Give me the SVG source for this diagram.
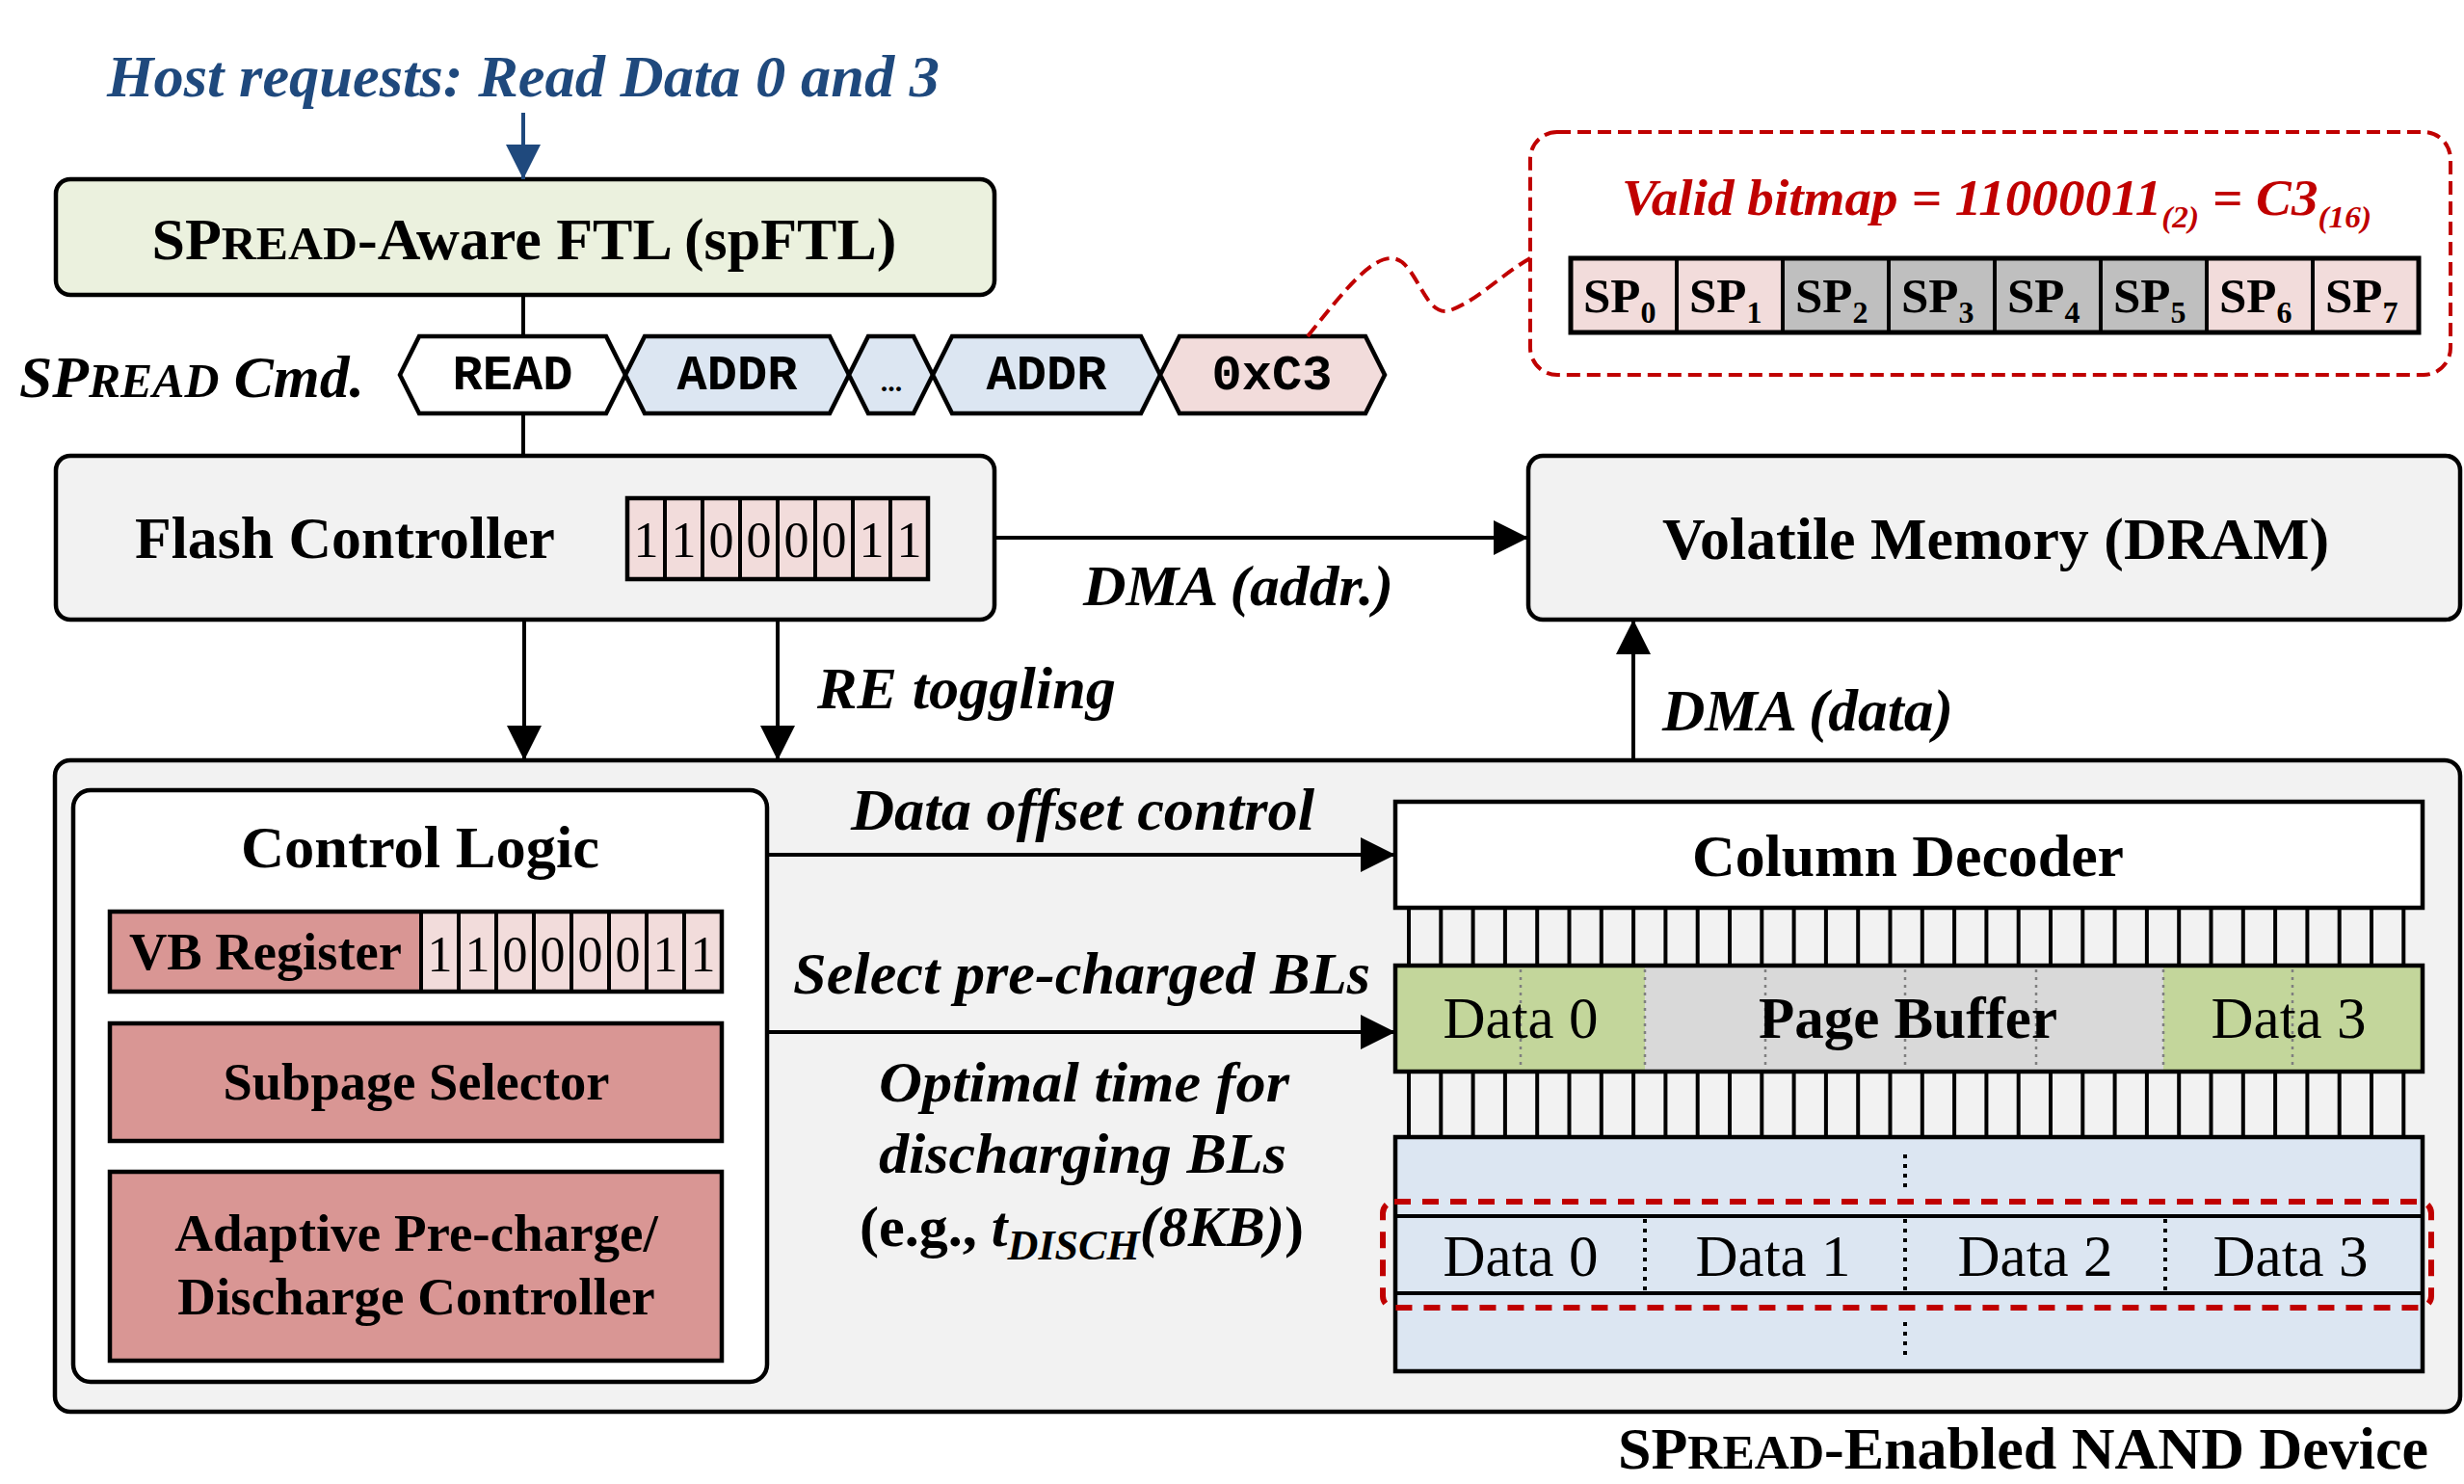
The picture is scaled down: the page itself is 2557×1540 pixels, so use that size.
<svg xmlns="http://www.w3.org/2000/svg" width="2557" height="1540" viewBox="0 0 2557 1540">
<defs>
<style>
text{font-family:"Liberation Serif","Times New Roman",serif;fill:#000}
.b{font-weight:bold}
.bi{font-weight:bold;font-style:italic}
.r{font-weight:normal}
.mono{font-family:"Liberation Mono","Courier New",monospace;font-weight:bold}
.box{stroke:#000;stroke-width:4.5}
.ln{stroke:#000;stroke-width:4;fill:none}
.mid{text-anchor:middle}
.dotg{stroke:#7f7f7f;stroke-width:2.5;stroke-dasharray:3 5;fill:none}
.dotk{stroke:#000;stroke-width:4;stroke-dasharray:4 6;fill:none}
</style>
<marker id="ah" markerUnits="userSpaceOnUse" markerWidth="36" markerHeight="36" viewBox="0 0 36 36" refX="36" refY="18" orient="auto"><path d="M0,0 L36,18 L0,36 z" fill="#000"/></marker>
<marker id="ahb" markerUnits="userSpaceOnUse" markerWidth="36" markerHeight="36" viewBox="0 0 36 36" refX="36" refY="18" orient="auto"><path d="M0,0 L36,18 L0,36 z" fill="#1f497d"/></marker>
</defs>
<rect width="2557" height="1540" fill="#fff"/>

<g id="host-label">
<text class="bi" x="111" y="100" font-size="62" style="fill:#1f497d" textLength="864" lengthAdjust="spacingAndGlyphs">Host requests: Read Data 0 and 3</text>
</g>

<g id="nand-device">
<rect class="box" x="57" y="789" width="2496" height="676" rx="16" fill="#f2f2f2"/>
<text class="b" x="1679" y="1524" font-size="62" textLength="841" lengthAdjust="spacingAndGlyphs">SP<tspan font-size="50">READ</tspan>-Enabled NAND Device</text>
</g>

<g id="ftl">
<rect class="box" x="58" y="186" width="974" height="120" rx="15" fill="#ebf1de"/>
<text class="b mid" x="544" y="269" font-size="61" textLength="773" lengthAdjust="spacingAndGlyphs">SP<tspan font-size="49">READ</tspan>-Aware FTL (spFTL)</text>
</g>

<g id="spread-cmd">
<text class="bi" x="20" y="412" font-size="62" textLength="358" lengthAdjust="spacingAndGlyphs">SP<tspan font-size="50">READ</tspan> Cmd.</text>
<polygon class="box" fill="#ffffff" points="415,389 435,349 629,349 649,389 629,429 435,429"/>
<polygon class="box" fill="#dce6f2" points="649,389 669,349 861,349 881,389 861,429 669,429"/>
<polygon class="box" fill="#dce6f2" points="881,389 901,349 948,349 968,389 948,429 901,429"/>
<polygon class="box" fill="#dce6f2" points="968,389 988,349 1184,349 1204,389 1184,429 988,429"/>
<polygon class="box" fill="#f2dcdb" points="1204,389 1224,349 1417,349 1437,389 1417,429 1224,429"/>
<text class="mono mid" x="532" y="404" font-size="52">READ</text>
<text class="mono mid" x="765" y="404" font-size="52">ADDR</text>
<text class="b mid" x="925" y="406" font-size="30">...</text>
<text class="mono mid" x="1086" y="404" font-size="52">ADDR</text>
<text class="mono mid" x="1320" y="404" font-size="52">0xC3</text>
</g>

<g id="flash-controller">
<rect class="box" x="58" y="473" width="974" height="170" rx="15" fill="#f2f2f2"/>
<text class="b" x="140" y="579" font-size="61" textLength="436" lengthAdjust="spacingAndGlyphs">Flash Controller</text>
<rect x="651" y="517" width="312" height="84" fill="#f2dcdb" stroke="#000" stroke-width="4.5"/>
<path class="ln" stroke-width="3" d="M690 517V601M729 517V601M768 517V601M807 517V601M846 517V601M885 517V601M924 517V601"/>
<g class="r" font-size="52" text-anchor="middle">
<text x="670.5" y="578">1</text><text x="709.5" y="578">1</text><text x="748.5" y="578">0</text><text x="787.5" y="578">0</text><text x="826.5" y="578">0</text><text x="865.5" y="578">0</text><text x="904.5" y="578">1</text><text x="943.5" y="578">1</text>
</g>
</g>

<g id="dram">
<rect class="box" x="1586" y="473" width="967" height="170" rx="15" fill="#f2f2f2"/>
<text class="b" x="1725" y="580" font-size="61" textLength="692" lengthAdjust="spacingAndGlyphs">Volatile Memory (DRAM)</text>
</g>

<g id="bitmap-callout">
<rect x="1588" y="137" width="955" height="252" rx="28" fill="none" stroke="#c00000" stroke-width="4" stroke-dasharray="14 7"/>
<text class="bi" x="1683" y="223" font-size="53" style="fill:#c00000" textLength="778" lengthAdjust="spacingAndGlyphs">Valid bitmap = 11000011<tspan font-size="32" dy="13">(2)</tspan><tspan dy="-13"> = C3</tspan><tspan font-size="32" dy="13">(16)</tspan></text>
<rect x="1630" y="268" width="110" height="77" fill="#f2dcdb"/>
<rect x="1740" y="268" width="110" height="77" fill="#f2dcdb"/>
<rect x="1850" y="268" width="440" height="77" fill="#bfbfbf"/>
<rect x="2290" y="268" width="220" height="77" fill="#f2dcdb"/>
<rect x="1630" y="268" width="880" height="77" fill="none" stroke="#000" stroke-width="5"/>
<path class="ln" stroke-width="3" d="M1740 268V345M1850 268V345M1960 268V345M2070 268V345M2180 268V345M2290 268V345M2400 268V345"/>
<g class="b" font-size="51">
<text x="1643" y="324">SP<tspan font-size="32" dy="11">0</tspan></text>
<text x="1753" y="324">SP<tspan font-size="32" dy="11">1</tspan></text>
<text x="1863" y="324">SP<tspan font-size="32" dy="11">2</tspan></text>
<text x="1973" y="324">SP<tspan font-size="32" dy="11">3</tspan></text>
<text x="2083" y="324">SP<tspan font-size="32" dy="11">4</tspan></text>
<text x="2193" y="324">SP<tspan font-size="32" dy="11">5</tspan></text>
<text x="2303" y="324">SP<tspan font-size="32" dy="11">6</tspan></text>
<text x="2413" y="324">SP<tspan font-size="32" dy="11">7</tspan></text>
</g>
</g>

<g id="control-logic">
<rect class="box" x="76" y="820" width="720" height="614" rx="18" fill="#ffffff"/>
<text class="b mid" x="436" y="900" font-size="62" textLength="372" lengthAdjust="spacingAndGlyphs">Control Logic</text>
</g>

<g id="vb-register">
<rect x="114" y="946" width="323" height="83" fill="#d99694"/>
<rect x="437" y="946" width="312" height="83" fill="#f2dcdb"/>
<rect x="114" y="946" width="635" height="83" fill="none" stroke="#000" stroke-width="4.5"/>
<path class="ln" stroke-width="3" d="M437 946V1029M476 946V1029M515 946V1029M554 946V1029M593 946V1029M632 946V1029M671 946V1029M710 946V1029"/>
<text class="b" x="134" y="1006" font-size="55" textLength="283" lengthAdjust="spacingAndGlyphs">VB Register</text>
<g class="r" font-size="52" text-anchor="middle">
<text x="456.5" y="1008">1</text><text x="495.5" y="1008">1</text><text x="534.5" y="1008">0</text><text x="573.5" y="1008">0</text><text x="612.5" y="1008">0</text><text x="651.5" y="1008">0</text><text x="690.5" y="1008">1</text><text x="729.5" y="1008">1</text>
</g>
</g>

<g id="subpage-selector">
<rect class="box" x="114" y="1062" width="635" height="122" fill="#d99694"/>
<text class="b mid" x="432" y="1141" font-size="55" textLength="401" lengthAdjust="spacingAndGlyphs">Subpage Selector</text>
</g>

<g id="adaptive-controller">
<rect class="box" x="114" y="1216" width="635" height="196" fill="#d99694"/>
<text class="b mid" x="432" y="1298" font-size="55">Adaptive Pre-charge/</text>
<text class="b mid" x="432" y="1364" font-size="55">Discharge Controller</text>
</g>

<g id="column-decoder">
<rect class="box" x="1448" y="832" width="1066" height="110" fill="#ffffff"/>
<text class="b mid" x="1980" y="909" font-size="62" textLength="448" lengthAdjust="spacingAndGlyphs">Column Decoder</text>
</g>

<g id="bitlines">
<path class="ln" stroke-width="3.5" d="M1462 942V1002M1495.3 942V1002M1528.6 942V1002M1561.9 942V1002M1595.2 942V1002M1628.5 942V1002M1661.8 942V1002M1695.1 942V1002M1728.4 942V1002M1761.7 942V1002M1795 942V1002M1828.3 942V1002M1861.6 942V1002M1894.9 942V1002M1928.2 942V1002M1961.5 942V1002M1994.8 942V1002M2028.1 942V1002M2061.4 942V1002M2094.7 942V1002M2128 942V1002M2161.3 942V1002M2194.6 942V1002M2227.9 942V1002M2261.2 942V1002M2294.5 942V1002M2327.8 942V1002M2361.1 942V1002M2394.4 942V1002M2427.7 942V1002M2461 942V1002M2494.3 942V1002"/>
<path class="ln" stroke-width="3.5" d="M1462 1112V1180M1495.3 1112V1180M1528.6 1112V1180M1561.9 1112V1180M1595.2 1112V1180M1628.5 1112V1180M1661.8 1112V1180M1695.1 1112V1180M1728.4 1112V1180M1761.7 1112V1180M1795 1112V1180M1828.3 1112V1180M1861.6 1112V1180M1894.9 1112V1180M1928.2 1112V1180M1961.5 1112V1180M1994.8 1112V1180M2028.1 1112V1180M2061.4 1112V1180M2094.7 1112V1180M2128 1112V1180M2161.3 1112V1180M2194.6 1112V1180M2227.9 1112V1180M2261.2 1112V1180M2294.5 1112V1180M2327.8 1112V1180M2361.1 1112V1180M2394.4 1112V1180M2427.7 1112V1180M2461 1112V1180M2494.3 1112V1180"/>
</g>

<g id="page-buffer">
<rect x="1448" y="1002" width="259" height="110" fill="#c3d69b"/>
<rect x="1707" y="1002" width="538" height="110" fill="#d9d9d9"/>
<rect x="2245" y="1002" width="269" height="110" fill="#c3d69b"/>
<path class="dotg" d="M1578 1006V1108M1707 1006V1108M1832 1006V1108M1977 1006V1108M2113 1006V1108M2245 1006V1108M2379 1006V1108"/>
<rect x="1448" y="1002" width="1066" height="110" fill="none" stroke="#000" stroke-width="4.5"/>
<text class="r mid" x="1578" y="1077" font-size="61">Data 0</text>
<text class="b mid" x="1980" y="1077" font-size="61">Page Buffer</text>
<text class="r mid" x="2375" y="1077" font-size="61">Data 3</text>
</g>

<g id="memory-array">
<rect class="box" x="1448" y="1180" width="1066" height="243" fill="#dce6f2"/>
<path class="ln" stroke-width="5" d="M1448 1262H2514M1448 1342H2514"/>
<path class="dotk" d="M1707 1265V1340M1977 1265V1340M2247 1265V1340"/>
<path class="dotk" d="M1977 1198V1234M1977 1372V1408"/>
<text class="r mid" x="1578" y="1324" font-size="61">Data 0</text>
<text class="r mid" x="1840" y="1324" font-size="61">Data 1</text>
<text class="r mid" x="2112" y="1324" font-size="61">Data 2</text>
<text class="r mid" x="2377" y="1324" font-size="61">Data 3</text>
<rect x="1435" y="1247" width="1088" height="110" rx="12" fill="none" stroke="#c00000" stroke-width="6" stroke-dasharray="17 12"/>
</g>

<g id="connectors">
<line x1="543" y1="117" x2="543" y2="186" stroke="#1f497d" stroke-width="4" marker-end="url(#ahb)"/>
<line class="ln" x1="543" y1="306" x2="543" y2="349"/>
<line class="ln" x1="543" y1="429" x2="543" y2="473"/>
<line class="ln" x1="544" y1="643" x2="544" y2="789" marker-end="url(#ah)"/>
<line class="ln" x1="807" y1="643" x2="807" y2="789" marker-end="url(#ah)"/>
<line class="ln" x1="1032" y1="558" x2="1586" y2="558" marker-end="url(#ah)"/>
<line class="ln" x1="1695" y1="789" x2="1695" y2="643" marker-end="url(#ah)"/>
<line class="ln" x1="796" y1="887" x2="1448" y2="887" marker-end="url(#ah)"/>
<line class="ln" x1="796" y1="1071" x2="1448" y2="1071" marker-end="url(#ah)"/>
<path d="M1357,349 C1400,295 1432,255 1455,272 C1474,288 1482,330 1505,322 C1533,312 1558,285 1588,268" fill="none" stroke="#c00000" stroke-width="4" stroke-dasharray="14 7"/>
<text class="bi" x="1124" y="628" font-size="60" textLength="322" lengthAdjust="spacingAndGlyphs">DMA (addr.)</text>
<text class="bi" x="848" y="735" font-size="62" textLength="310" lengthAdjust="spacingAndGlyphs">RE toggling</text>
<text class="bi" x="1725" y="758" font-size="61" textLength="302" lengthAdjust="spacingAndGlyphs">DMA (data)</text>
<text class="bi" x="883" y="861" font-size="61" textLength="481" lengthAdjust="spacingAndGlyphs">Data offset control</text>
<text class="bi" x="823" y="1031" font-size="61" textLength="599" lengthAdjust="spacingAndGlyphs">Select pre-charged BLs</text>
<text class="bi" x="912" y="1143" font-size="60" textLength="426" lengthAdjust="spacingAndGlyphs">Optimal time for</text>
<text class="bi" x="912" y="1217" font-size="60" textLength="423" lengthAdjust="spacingAndGlyphs">discharging BLs</text>
<text class="b" x="892" y="1293" font-size="60" textLength="461" lengthAdjust="spacingAndGlyphs">(e.g., <tspan class="bi">t</tspan><tspan class="bi" font-size="44" dy="14">DISCH</tspan><tspan class="bi" dy="-14">(8KB)</tspan>)</text>
</g>
</svg>
